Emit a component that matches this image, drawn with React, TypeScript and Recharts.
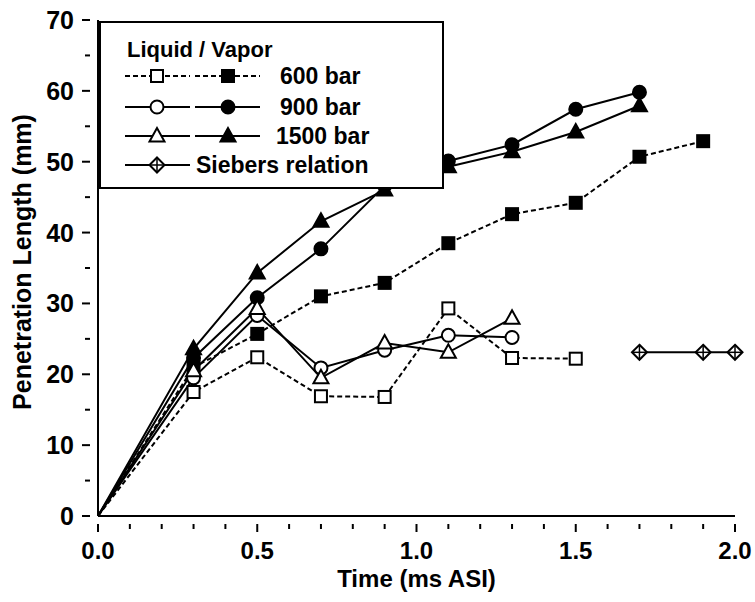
import React from 'react';
import { LineChart, Line, XAxis, YAxis } from 'recharts';

const times600Liquid = [0, 0.3, 0.5, 0.7, 0.9, 1.1, 1.3, 1.5];
const liquid600 = [0, 17.5, 22.4, 16.9, 16.8, 29.3, 22.3, 22.2];
const times600Vapor = [0, 0.3, 0.5, 0.7, 0.9, 1.1, 1.3, 1.5, 1.7, 1.9];
const vapor600 = [0, 21.0, 25.7, 31.0, 32.9, 38.5, 42.6, 44.2, 50.7, 52.9];
const timesLiquid = [0, 0.3, 0.5, 0.7, 0.9, 1.1, 1.3];
const liquid900 = [0, 19.5, 28.3, 20.9, 23.4, 25.5, 25.2];
const liquid1500 = [0, 20.5, 29.3, 19.5, 24.4, 23.1, 27.9];
const timesVapor = [0, 0.3, 0.5, 0.7, 0.9, 1.1, 1.3, 1.5, 1.7];
const vapor900 = [0, 22.3, 30.8, 37.7, 46.6, 50.1, 52.4, 57.4, 59.8];
const vapor1500 = [0, 23.6, 34.3, 41.6, 46.0, 49.3, 51.4, 54.2, 57.9];
const timesSiebers = [1.7, 1.9, 2.0];
const siebers = [23.1, 23.1, 23.1];

const xTicks = [0, 0.1, 0.2, 0.3, 0.4, 0.5, 0.6, 0.7, 0.8, 0.9, 1.0, 1.1, 1.2, 1.3, 1.4, 1.5, 1.6, 1.7, 1.8, 1.9, 2.0];
const yTicks = [0, 5, 10, 15, 20, 25, 30, 35, 40, 45, 50, 55, 60, 65, 70];
const legendTitle = 'Liquid / Vapor';
const legendLabels = ['600 bar', '900 bar', '1500 bar', 'Siebers relation'];

const toData = (xs: number[], ys: number[]) => xs.map((t, i) => ({ t, v: ys[i] }));

const FONT = 'Liberation Sans, Arial, sans-serif';

const Square = ({ cx, cy, filled }: any) => (
  <rect x={cx - 6} y={cy - 6} width={12} height={12} fill={filled ? '#000' : '#fff'} stroke="#000" strokeWidth={2} />
);
const Circle = ({ cx, cy, filled }: any) => (
  <circle cx={cx} cy={cy} r={6.5} fill={filled ? '#000' : '#fff'} stroke="#000" strokeWidth={2} />
);
const Tri = ({ cx, cy, filled }: any) => (
  <polygon points={`${cx},${cy - 8} ${cx - 7.5},${cy + 5.5} ${cx + 7.5},${cy + 5.5}`} fill={filled ? '#000' : '#fff'} stroke="#000" strokeWidth={2} />
);
const Diamond = ({ cx, cy }: any) => (
  <g>
    <polygon points={`${cx},${cy - 7.5} ${cx + 7.5},${cy} ${cx},${cy + 7.5} ${cx - 7.5},${cy}`} fill="#fff" stroke="#000" strokeWidth={2} />
    <line x1={cx - 7.5} y1={cy} x2={cx + 7.5} y2={cy} stroke="#000" strokeWidth={1.5} />
    <line x1={cx} y1={cy - 7.5} x2={cx} y2={cy + 7.5} stroke="#000" strokeWidth={1.5} />
  </g>
);

const mkDot = (Shape: any, filled: boolean) => (p: any) => {
  if (p.cx == null || p.cy == null || (p.payload && p.payload.t === 0)) return <g key={p.index} />;
  return <g key={p.index}><Shape cx={p.cx} cy={p.cy} filled={filled} /></g>;
};

const XTick = (props: any) => {
  const { x, y, payload } = props;
  const v = Math.round(payload.value * 10) / 10;
  const major = Math.abs(v * 2 - Math.round(v * 2)) < 1e-6;
  return (
    <g>
      <line x1={x} y1={y} x2={x} y2={y + (major ? 8 : 5)} stroke="#000" strokeWidth={2} />
      {major && (
        <text x={x} y={y + 35} textAnchor="middle" fontSize={24} fontWeight="bold" fontFamily={FONT} fill="#000">
          {v.toFixed(1)}
        </text>
      )}
    </g>
  );
};

const YTick = (props: any) => {
  const { x, y, payload } = props;
  const v = payload.value;
  const major = v % 10 === 0;
  return (
    <g>
      <line x1={x} y1={y} x2={x - (major ? 8 : 5)} y2={y} stroke="#000" strokeWidth={2} />
      {major && (
        <text x={x - 16} y={y + 9} textAnchor="end" fontSize={25} fontWeight="bold" fontFamily={FONT} fill="#000">
          {v}
        </text>
      )}
    </g>
  );
};

const RTick = (props: any) => {
  const { x, y, payload } = props;
  const major = payload.value % 10 === 0;
  return <line x1={x} y1={y} x2={x - (major ? 8 : 5)} y2={y} stroke="#000" strokeWidth={2} />;
};

const YLabel = (props: any) => {
  const vb = props.viewBox || { x: 0, y: 20, width: 98, height: 496 };
  const cy = vb.y + vb.height / 2 - 6;
  return (
    <text x={31} y={cy} transform={`rotate(-90, 31, ${cy})`} textAnchor="middle" fontSize={25} fontWeight="bold" fontFamily={FONT} fill="#000">
      Penetration Length (mm)
    </text>
  );
};

const XLabel = (props: any) => {
  const vb = props.viewBox || { x: 98, y: 516, width: 637, height: 86 };
  return (
    <text x={vb.x + vb.width / 2} y={587} textAnchor="middle" fontSize={24} fontWeight="bold" fontFamily={FONT} fill="#000">
      Time (ms ASI)
    </text>
  );
};

const LegendBox = () => {
  const rows = [
    { y: 76, label: legendLabels[0], shape: Square, dash: '5 3', tx: 280 },
    { y: 107, label: legendLabels[1], shape: Circle, dash: undefined, tx: 280 },
    { y: 136, label: legendLabels[2], shape: Tri, dash: undefined, tx: 276 },
  ];
  return (
    <svg width={755} height={602} style={{ position: 'absolute', left: 0, top: 0, pointerEvents: 'none' }}>
      <rect x={100} y={22} width={343} height={166} fill="#fff" stroke="#000" strokeWidth={2} />
      <text x={127} y={57} fontSize={22} fontWeight="bold" fontFamily={FONT} fill="#000">{legendTitle}</text>
      {rows.map((r) => (
        <g key={r.label}>
          <line x1={125} y1={r.y} x2={190} y2={r.y} stroke="#000" strokeWidth={2} strokeDasharray={r.dash} />
          <line x1={195} y1={r.y} x2={260} y2={r.y} stroke="#000" strokeWidth={2} strokeDasharray={r.dash} />
          <r.shape cx={157} cy={r.y} filled={false} />
          <r.shape cx={228} cy={r.y} filled={true} />
          <text x={r.tx} y={r.y + 8} fontSize={23} fontWeight="bold" fontFamily={FONT} fill="#000">{r.label}</text>
        </g>
      ))}
      <line x1={125} y1={165} x2={190} y2={165} stroke="#000" strokeWidth={2} />
      <Diamond cx={157} cy={165} />
      <text x={196} y={173} fontSize={23} fontWeight="bold" fontFamily={FONT} fill="#000">{legendLabels[3]}</text>
    </svg>
  );
};

export default function App() {
  return (
    <div style={{ position: 'absolute', left: 0, top: 0, width: 755, height: 602, background: '#fff' }}>
      <LineChart width={755} height={602} margin={{ top: 20, right: 20, left: 0, bottom: 0 }}>
        <XAxis
          dataKey="t"
          type="number"
          domain={[0, 2]}
          ticks={xTicks}
          allowDuplicatedCategory={false}
          height={86}
          axisLine={{ stroke: '#000', strokeWidth: 2 }}
          tickLine={false}
          tick={<XTick />}
          interval={0}
          label={<XLabel />}
        />
        <XAxis
          xAxisId="top"
          orientation="top"
          dataKey="t"
          type="number"
          domain={[0, 2]}
          ticks={xTicks}
          height={0}
          axisLine={{ stroke: '#000', strokeWidth: 2 }}
          tickLine={false}
          tick={false}
        />
        <YAxis
          type="number"
          domain={[0, 70]}
          ticks={yTicks}
          width={98}
          interval={0}
          axisLine={{ stroke: '#000', strokeWidth: 2 }}
          tickLine={false}
          tick={<YTick />}
          label={<YLabel />}
        />
        <YAxis
          yAxisId="right"
          orientation="right"
          type="number"
          domain={[0, 70]}
          ticks={yTicks}
          width={0}
          interval={0}
          axisLine={{ stroke: '#000', strokeWidth: 2 }}
          tickLine={false}
          tick={<RTick />}
        />
        <Line data={toData(times600Vapor, vapor600)} dataKey="v" stroke="#000" strokeWidth={2} strokeDasharray="5 3" dot={mkDot(Square, true)} isAnimationActive={false} />
        <Line data={toData(times600Liquid, liquid600)} dataKey="v" stroke="#000" strokeWidth={2} strokeDasharray="5 3" dot={mkDot(Square, false)} isAnimationActive={false} />
        <Line data={toData(timesVapor, vapor900)} dataKey="v" stroke="#000" strokeWidth={2} dot={mkDot(Circle, true)} isAnimationActive={false} />
        <Line data={toData(timesLiquid, liquid900)} dataKey="v" stroke="#000" strokeWidth={2} dot={mkDot(Circle, false)} isAnimationActive={false} />
        <Line data={toData(timesVapor, vapor1500)} dataKey="v" stroke="#000" strokeWidth={2} dot={mkDot(Tri, true)} isAnimationActive={false} />
        <Line data={toData(timesLiquid, liquid1500)} dataKey="v" stroke="#000" strokeWidth={2} dot={mkDot(Tri, false)} isAnimationActive={false} />
        <Line data={toData(timesSiebers, siebers)} dataKey="v" stroke="#000" strokeWidth={2} dot={mkDot(Diamond, false)} isAnimationActive={false} />
      </LineChart>
      <LegendBox />
    </div>
  );
}
